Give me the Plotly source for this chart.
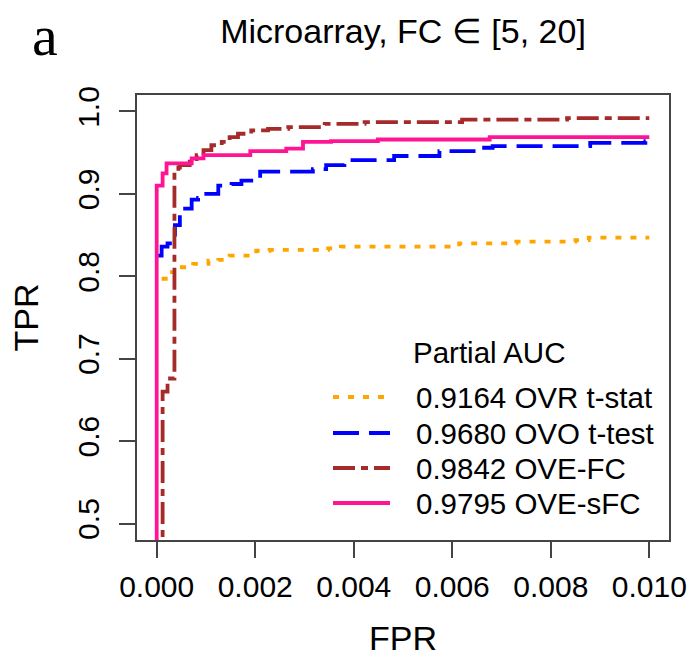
import plotly.graph_objects as go

# ---------------- data ----------------
series_names = ["OVR t-stat", "OVO t-test", "OVE-FC", "OVE-sFC"]
partial_auc = ["0.9164", "0.9680", "0.9842", "0.9795"]

ovr_fpr = [0.0001, 0.00027, 0.00051, 0.00074, 0.00105, 0.00125, 0.00148, 0.00202, 0.00229,
           0.00348, 0.00374, 0.00614, 0.0073, 0.0085, 0.00877, 0.0100]
ovr_tpr = [0.797, 0.805, 0.811, 0.815, 0.819, 0.820, 0.825, 0.831, 0.832,
           0.834, 0.836, 0.840, 0.842, 0.844, 0.847, 0.847]

ovo_fpr = [0.00003, 0.0001, 0.00022, 0.00037, 0.00047, 0.00047, 0.00071, 0.00084, 0.00095,
           0.00125, 0.00152, 0.00172, 0.00192, 0.0021, 0.00317, 0.00344, 0.00381, 0.00482,
           0.00574, 0.00655, 0.00682, 0.0088, 0.00992, 0.0100]
ovo_tpr = [0.825, 0.836, 0.840, 0.862, 0.870, 0.882, 0.893, 0.895, 0.900,
           0.910, 0.912, 0.916, 0.919, 0.927, 0.930, 0.935, 0.941, 0.946,
           0.952, 0.956, 0.958, 0.962, 0.964, 0.964]

ovefc_fpr = [0.00012, 0.00012, 0.00022, 0.00036, 0.00044, 0.00047, 0.00067, 0.00081, 0.00095,
             0.00111, 0.00132, 0.00148, 0.00165, 0.00192, 0.00226, 0.00267, 0.00341, 0.00422,
             0.0062, 0.00833, 0.0100]
ovefc_tpr = [0.40, 0.660, 0.676, 0.928, 0.932, 0.935, 0.939, 0.947, 0.953,
             0.959, 0.963, 0.969, 0.973, 0.977, 0.979, 0.981, 0.985, 0.987,
             0.990, 0.992, 0.992]

ovesfc_fpr = [0.0, 0.0, 0.00012, 0.0002, 0.00071, 0.00095, 0.0019, 0.00263, 0.00297,
              0.00354, 0.00449, 0.00676, 0.0100]
ovesfc_tpr = [0.40, 0.910, 0.925, 0.937, 0.943, 0.947, 0.952, 0.955, 0.963,
              0.964, 0.966, 0.969, 0.969]

x_ticks = [0.000, 0.002, 0.004, 0.006, 0.008, 0.010]
x_ticktext = ["0.000", "0.002", "0.004", "0.006", "0.008", "0.010"]
y_ticks = [0.5, 0.6, 0.7, 0.8, 0.9, 1.0]
y_ticktext = ["0.5", "0.6", "0.7", "0.8", "0.9", "1.0"]

# ---------------- styles ----------------
colors = ["#FFA500", "#0000FF", "#A52A2A", "#FF1493"]
dashes = ["6px,9px", "26px,10px", "22px,6px,7px,6px", "solid"]
FONT = "Liberation Sans, Arial, Helvetica, sans-serif"

W, H = 689, 657
L, R, T, B = 137, 20, 95, 117
PW, PH = W - L - R, H - T - B


def px2paper(px, py):
    return (px - L) / PW, (H - B - py) / PH


fig = go.Figure()
for xs, ys, c, d, n in zip([ovr_fpr, ovo_fpr, ovefc_fpr, ovesfc_fpr],
                           [ovr_tpr, ovo_tpr, ovefc_tpr, ovesfc_tpr],
                           colors, dashes, series_names):
    fig.add_trace(go.Scatter(x=xs, y=ys, mode="lines", name=n, line_shape="hv",
                             line=dict(color=c, width=3.8, dash=d), showlegend=False,
                             cliponaxis=True))

# manual legend (R style, no box)
shapes = []
annotations = []
lx, ly = px2paper(411, 352)
annotations.append(dict(text="Partial AUC", x=lx, y=ly, xref="paper", yref="paper",
                        xanchor="left", yanchor="middle", showarrow=False,
                        font=dict(family=FONT, size=29.5, color="black")))
rows_y = [397, 433, 468, 503]
for i in range(4):
    x0, y0 = px2paper(333, rows_y[i])
    x1, _ = px2paper(390, rows_y[i])
    shapes.append(dict(type="line", xref="paper", yref="paper", x0=x0, x1=x1, y0=y0, y1=y0,
                       line=dict(color=colors[i], width=3.8, dash=dashes[i])))
    tx, _ = px2paper(414, rows_y[i])
    annotations.append(dict(text=f"{partial_auc[i]} {series_names[i]}", x=tx, y=y0,
                            xref="paper", yref="paper", xanchor="left", yanchor="middle",
                            showarrow=False, font=dict(family=FONT, size=29.5, color="black")))

# panel letter
ax_, ay_ = px2paper(45, 1)
annotations.append(dict(text="a", x=ax_, y=ay_, xref="paper", yref="paper",
                        xanchor="center", yanchor="top", showarrow=False,
                        font=dict(family="Liberation Serif, Times New Roman, serif", size=58,
                                  color="black")))

fig.update_layout(
    width=W, height=H,
    margin=dict(l=L, r=R, t=T, b=B, autoexpand=False),
    plot_bgcolor="white", paper_bgcolor="white",
    title=dict(text="Microarray, FC \u2208 [5, 20]", x=403 / W, xanchor="center",
               y=1 - 31 / H, yanchor="middle", yref="container",
               font=dict(family=FONT, size=34, color="black")),
    shapes=shapes, annotations=annotations,
    xaxis=dict(range=[-0.0004, 0.0104], tickvals=x_ticks, ticktext=x_ticktext,
               showgrid=False, zeroline=False, showline=True, mirror=True,
               linecolor="#444", linewidth=1.5, ticks="outside", ticklen=16,
               tickwidth=1.5, tickcolor="#444", ticklabelstandoff=3,
               tickfont=dict(family=FONT, size=30, color="black"),
               title=dict(text="FPR", font=dict(family=FONT, size=34, color="black"),
                          standoff=33),
               automargin=False),
    yaxis=dict(range=[0.48, 1.02], tickvals=y_ticks, ticktext=y_ticktext,
               showgrid=False, zeroline=False, showline=True, mirror=True,
               linecolor="#444", linewidth=1.5, ticks="outside", ticklen=16,
               tickwidth=1.5, tickcolor="#444", tickangle=-90, ticklabelstandoff=8,
               tickfont=dict(family=FONT, size=30, color="black"),
               title=dict(text="TPR", font=dict(family=FONT, size=34, color="black"),
                          standoff=23),
               automargin=False),
)

fig.write_html("out.html", post_script="document.body.style.margin='0px';",
               config={"displayModeBar": False})
